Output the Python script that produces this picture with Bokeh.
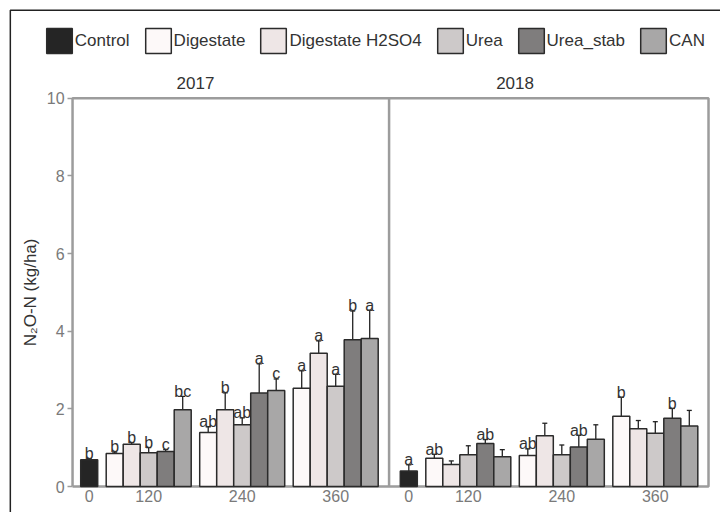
import math
from bokeh.plotting import figure
from bokeh.models import (ColumnDataSource, Range1d, FixedTicker, Legend, LegendItem,
                          Whisker, TeeHead, Label)
from bokeh.embed import file_html
from bokeh.resources import INLINE
from bokeh.core.properties import value

# ---------------- data ----------------
years = ["2017", "2018"]
doses = ["0", "120", "240", "360"]
treatments = ["Digestate", "Digestate H2SO4", "Urea", "Urea_stab", "CAN"]

control_mean = [0.69, 0.40]
control_err = [0.03, 0.16]
control_letters = ["b", "a"]

# rows: 120, 240, 360 kg N/ha ; columns: treatments
mean_2017 = [[0.85, 1.09, 0.87, 0.90, 1.98],
             [1.39, 1.98, 1.59, 2.41, 2.47],
             [2.53, 3.43, 2.58, 3.78, 3.81]]
err_2017 = [[0.04, 0.04, 0.13, 0.05, 0.34],
            [0.15, 0.43, 0.18, 0.75, 0.30],
            [0.45, 0.32, 0.31, 0.74, 0.73]]
letters_2017 = [["b", "b", "b", "c", "bc"],
                ["ab", "b", "ab", "a", "c"],
                ["a", "a", "a", "b", "a"]]

mean_2018 = [[0.73, 0.57, 0.82, 1.11, 0.77],
             [0.80, 1.31, 0.82, 1.02, 1.22],
             [1.81, 1.49, 1.37, 1.76, 1.56]]
err_2018 = [[0.10, 0.09, 0.23, 0.10, 0.18],
            [0.17, 0.32, 0.25, 0.30, 0.37],
            [0.49, 0.21, 0.30, 0.25, 0.40]]
letters_2018 = [["ab", "", "", "ab", ""],
                ["ab", "", "", "ab", ""],
                ["b", "", "", "b", ""]]

y_ticks = [0, 2, 4, 6, 8, 10]
y_label = "N\u2082O-N (kg/ha)"

control_color = "#252525"
treatment_colors = ["#fdf9f9", "#eee6e6", "#cdc9c9", "#7f7d7d", "#a8a7a7"]

# ---------------- layout (bar units) ----------------
X0, X1 = -5.218, 37.135          # canvas-wide x range
Y0, Y1 = -0.668, 12.514          # canvas-wide y range
YEAR_SHIFT = 18.8
GROUP_START = 1.0
GROUP_STEP = 5.5
PANEL_LEFT = -0.98
PANEL_DIV = 17.64
PANEL_RIGHT = 36.43
TITLE_X = 6.25
TITLE_Y = 10.39
YLABEL_X = -3.45
OUTER_X = -4.64
OUTER_Y = 12.265

means = [mean_2017, mean_2018]
errs = [err_2017, err_2018]
letters = [letters_2017, letters_2018]

all_x, all_up, all_lo, all_let = [], [], [], []
tick_pos, tick_lab = [], []

ctrl = dict(x=[], top=[])
for yi in range(len(years)):
    off = yi * YEAR_SHIFT
    ctrl["x"].append(off)
    ctrl["top"].append(control_mean[yi])
    all_x.append(off)
    all_up.append(control_mean[yi] + control_err[yi])
    all_lo.append(control_mean[yi] - control_err[yi])
    all_let.append(control_letters[yi])
    tick_pos.append(round(off, 3))
    tick_lab.append(doses[0])
    for di in range(3):
        tick_pos.append(round(off + GROUP_START + di * GROUP_STEP + len(treatments) / 2, 3))
        tick_lab.append(doses[di + 1])

series = []
for ti in range(len(treatments)):
    d = dict(x=[], top=[])
    for yi in range(len(years)):
        off = yi * YEAR_SHIFT
        for di in range(3):
            x = off + GROUP_START + di * GROUP_STEP + ti + 0.5
            m = means[yi][di][ti]
            e = errs[yi][di][ti]
            d["x"].append(x)
            d["top"].append(m)
            all_x.append(x)
            all_up.append(m + e)
            all_lo.append(m - e)
            all_let.append(letters[yi][di][ti])
    series.append(d)

FONT = "Liberation Sans"

p = figure(width=720, height=512,
           x_range=Range1d(X0, X1), y_range=Range1d(Y0, Y1),
           output_backend="svg", toolbar_location=None,
           min_border_left=0, min_border_right=0,
           min_border_top=0, min_border_bottom=0)
p.outline_line_color = None
p.xgrid.visible = False
p.ygrid.visible = False

# outer black border (left + top)
p.multi_line(xs=[[OUTER_X, OUTER_X, X1]], ys=[[Y0, OUTER_Y, OUTER_Y]],
             line_color="#222222", line_width=1.5)

# panel boxes (gray frame + divider)
ymax = y_ticks[-1]
p.multi_line(xs=[[PANEL_LEFT, PANEL_LEFT, PANEL_RIGHT, PANEL_RIGHT, PANEL_LEFT],
                 [PANEL_DIV, PANEL_DIV]],
             ys=[[0, ymax, ymax, 0, 0], [0, ymax]],
             line_color="#9c9c9c", line_width=2.5)

bar_line = "#2b2b2b"
renderers = []
r = p.vbar(x="x", top="top", width=1.0, bottom=0, source=ColumnDataSource(ctrl),
           fill_color=control_color, line_color=bar_line, line_width=1.5)
renderers.append(("Control", r))
for ti, name in enumerate(treatments):
    r = p.vbar(x="x", top="top", width=1.0, bottom=0, source=ColumnDataSource(series[ti]),
               fill_color=treatment_colors[ti], line_color=bar_line, line_width=1.5)
    renderers.append((name, r))

src = ColumnDataSource(dict(x=all_x, upper=all_up, lower=all_lo, letter=all_let))
w = Whisker(source=src, base="x", upper="upper", lower="lower",
            line_color="#222222", line_width=1.3,
            upper_head=TeeHead(size=5, line_color="#222222", line_width=1.3),
            lower_head=TeeHead(size=5, line_color="#222222", line_width=1.3))
p.add_layout(w)

p.text(x="x", y="upper", text="letter", source=src, text_align="center",
       text_baseline="alphabetic", y_offset=-5, text_font=value(FONT),
       text_font_size="16px", text_color="#333333")

# axes (fixed at the panel edges)
p.yaxis.fixed_location = PANEL_LEFT
p.yaxis.ticker = FixedTicker(ticks=y_ticks)
p.yaxis.axis_line_color = None
p.yaxis.major_tick_out = 5
p.yaxis.major_tick_in = 0
p.yaxis.major_tick_line_color = "#9c9c9c"
p.yaxis.major_tick_line_width = 1.5
p.yaxis.minor_tick_line_color = None
p.yaxis.major_label_standoff = 3
p.yaxis.major_label_text_font = FONT
p.yaxis.major_label_text_font_size = "16px"
p.yaxis.major_label_text_color = "#7a7a7a"

p.xaxis.fixed_location = 0
p.xaxis.ticker = FixedTicker(ticks=tick_pos)
p.xaxis.major_label_overrides = {t: l for t, l in zip(tick_pos, tick_lab)}
p.xaxis.axis_line_color = None
p.xaxis.major_tick_line_color = None
p.xaxis.major_tick_out = 0
p.xaxis.major_tick_in = 0
p.xaxis.minor_tick_line_color = None
p.xaxis.major_label_standoff = 3
p.xaxis.major_label_text_font = FONT
p.xaxis.major_label_text_font_size = "16px"
p.xaxis.major_label_text_color = "#7a7a7a"

# y-axis title
p.add_layout(Label(x=YLABEL_X, y=ymax / 2, text=y_label, angle=math.pi / 2,
                   text_align="center", text_baseline="middle",
                   text_font=FONT, text_font_size="17px", text_color="#333333"))

# panel titles
for yi, yr in enumerate(years):
    p.add_layout(Label(x=yi * YEAR_SHIFT + TITLE_X, y=TITLE_Y,
                       text=yr, text_align="center", text_baseline="alphabetic",
                       text_font=FONT, text_font_size="17px", text_color="#333333"))

legend = Legend(items=[LegendItem(label=n, renderers=[rr]) for n, rr in renderers],
                orientation="horizontal", location=(42.8, 456),
                glyph_width=32, glyph_height=31, label_standoff=0, spacing=12,
                padding=0, margin=0, border_line_color=None, background_fill_alpha=0,
                label_text_font=FONT, label_text_font_size="17px",
                label_text_color="#333333", label_text_baseline="alphabetic",
                label_height=20)
p.add_layout(legend, "center")

open("out.html", "w").write(file_html(p, INLINE))
